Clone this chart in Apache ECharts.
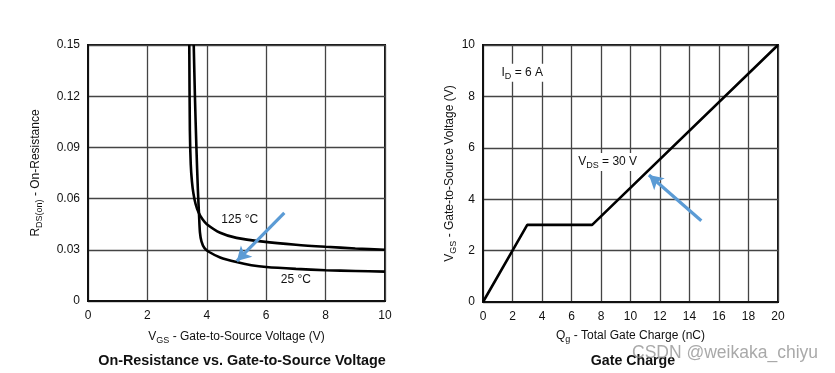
<!DOCTYPE html>
<html><head><meta charset="utf-8">
<script src="https://cdn.jsdelivr.net/npm/echarts@6/dist/echarts.min.js"></script>
<style>html,body{margin:0;padding:0;background:#fff}#c{width:835px;height:373px}</style>
</head><body><div id="c"></div>
<script>
// Left chart: On-Resistance vs. Gate-to-Source Voltage
const vgs125 = [3.41, 3.43, 3.46, 3.50, 3.55, 3.62, 3.72, 3.85, 4.0, 4.45, 5.0, 5.9, 7.0, 8.0, 9.0, 10];
const r125   = [0.15, 0.10, 0.080, 0.070, 0.063, 0.057, 0.052, 0.048, 0.045, 0.040, 0.037, 0.0348, 0.033, 0.0318, 0.0308, 0.030];
const vgs25  = [3.56, 3.60, 3.65, 3.70, 3.74, 3.77, 3.82, 3.92, 4.05, 4.45, 5.0, 5.5, 6.0, 7.0, 8.0, 9.0, 10];
const r25    = [0.15, 0.12, 0.09, 0.065, 0.050, 0.040, 0.035, 0.031, 0.029, 0.0255, 0.0228, 0.021, 0.0199, 0.0188, 0.018, 0.0176, 0.0172];
const leftXTicks = [0, 2, 4, 6, 8, 10];
const leftYTicks = [0, 0.03, 0.06, 0.09, 0.12, 0.15];
const arrowLeft = [[6.61, 0.0517], [5.01, 0.0234]];
const labelsLeft = [{text: '125 °C', x: 5.11, y: 0.0475}, {text: '25 °C', x: 7.0, y: 0.0123}];

// Right chart: Gate Charge
const qg  = [0, 3, 7.4, 20];
const vgs = [0, 3, 3, 10];
const rightXTicks = [0, 2, 4, 6, 8, 10, 12, 14, 16, 18, 20];
const rightYTicks = [0, 2, 4, 6, 8, 10];
const arrowRight = [[14.8, 3.16], [11.25, 4.94]];
const labelsRight = [{text: '{n|I}{s|D}{n| = 6 A}', x: 2.66, y: 8.92}, {text: '{n|V}{s|DS}{n| = 30 V}', x: 8.45, y: 5.45}];

const FONT = 'Liberation Sans';
const pair = (xs, ys) => xs.map((x, i) => [x, ys[i]]);
const rich = {
  n: {fontFamily: FONT, fontSize: 12, color: '#111'},
  s: {fontFamily: FONT, fontSize: 9, color: '#111', padding: [7, 0, 0, 0]}
};
const chart = echarts.init(document.getElementById('c'), null, {renderer: 'canvas'});
const axisCommon = {
  axisLine: {show: true, lineStyle: {color: '#111', width: 2}},
  axisTick: {show: false},
  splitLine: {show: true, lineStyle: {color: '#444', width: 1.3}},
  axisLabel: {fontFamily: FONT, fontSize: 12, color: '#111'},
  nameLocation: 'middle'
};
const annot = (labels, xi, yi) => ({
  type: 'scatter', xAxisIndex: xi, yAxisIndex: yi, symbolSize: 0, silent: true, z: 5,
  itemStyle: {opacity: 1},
  data: labels.map(l => ({value: [l.x, l.y], label: {formatter: l.text}})),
  label: {show: true, position: 'inside', fontFamily: FONT, fontSize: 12, color: '#111',
          backgroundColor: '#fff', padding: [1, 2], rich: rich}
});
const arrow = (pts, xi, yi) => ({
  type: 'line', xAxisIndex: xi, yAxisIndex: yi, data: [], silent: true, z: 6,
  markLine: {
    silent: true, animation: false, symbol: ['none', 'arrow'], symbolSize: [12, 14],
    label: {show: false},
    lineStyle: {color: '#5b9bd5', width: 3.2, type: 'solid', opacity: 1},
    data: [[{coord: pts[0]}, {coord: pts[1]}]]
  }
});
chart.setOption({
  animation: false,
  backgroundColor: '#fff',
  grid: [
    {left: 88, right: 450, top: 45, bottom: 72, show: true, borderColor: '#111', borderWidth: 2},
    {left: 483, right: 57, top: 45, bottom: 71, show: true, borderColor: '#111', borderWidth: 2}
  ],
  xAxis: [
    Object.assign({}, axisCommon, {gridIndex: 0, type: 'value', min: 0, max: 10, interval: 2,
      axisLabel: Object.assign({}, axisCommon.axisLabel, {margin: 9}),
      name: '{n|V}{s|GS}{n| - Gate-to-Source Voltage (V)}', nameGap: 28,
      nameTextStyle: {rich: rich}}),
    Object.assign({}, axisCommon, {gridIndex: 1, type: 'value', min: 0, max: 20, interval: 2,
      axisLabel: Object.assign({}, axisCommon.axisLabel, {margin: 9}),
      name: '{n|Q}{s|g}{n| - Total Gate Charge (nC)}', nameGap: 26,
      nameTextStyle: {rich: rich}})
  ],
  yAxis: [
    Object.assign({}, axisCommon, {gridIndex: 0, type: 'value', min: 0, max: 0.15, interval: 0.03,
      axisLabel: Object.assign({}, axisCommon.axisLabel, {margin: 8, formatter: v => v === 0 ? '0' : v.toFixed(2)}),
      name: '{n|R}{s|DS(on)}{n| - On-Resistance}', nameGap: 44, nameRotate: 90,
      nameTextStyle: {rich: rich}}),
    Object.assign({}, axisCommon, {gridIndex: 1, type: 'value', min: 0, max: 10, interval: 2,
      axisLabel: Object.assign({}, axisCommon.axisLabel, {margin: 8}),
      name: '{n|V}{s|GS}{n| - Gate-to-Source Voltage (V)}', nameGap: 24, nameRotate: 90,
      nameTextStyle: {rich: rich}})
  ],
  series: [
    {type: 'line', xAxisIndex: 0, yAxisIndex: 0, data: pair(vgs125, r125), smooth: 0.25, showSymbol: false,
     lineStyle: {color: '#000', width: 2.6}, clip: true},
    {type: 'line', xAxisIndex: 0, yAxisIndex: 0, data: pair(vgs25, r25), smooth: 0.25, showSymbol: false,
     lineStyle: {color: '#000', width: 2.6}, clip: true},
    {type: 'line', xAxisIndex: 1, yAxisIndex: 1, data: pair(qg, vgs), showSymbol: false,
     lineStyle: {color: '#000', width: 2.6}},
    annot(labelsLeft, 0, 0),
    annot(labelsRight, 1, 1),
    arrow(arrowLeft, 0, 0),
    arrow(arrowRight, 1, 1)
  ],
  graphic: [
    {type: 'text', style: {text: 'On-Resistance vs. Gate-to-Source Voltage', x: 242, y: 361,
      align: 'center', verticalAlign: 'middle', font: 'bold 14.4px "Liberation Sans"', fill: '#111'}},
    {type: 'text', style: {text: 'Gate Charge', x: 633, y: 361,
      align: 'center', verticalAlign: 'middle', font: 'bold 14.2px "Liberation Sans"', fill: '#111'}},
    {type: 'text', z: 100, style: {text: 'CSDN @weikaka_chiyu', x: 632, y: 353,
      align: 'left', verticalAlign: 'middle', font: '17.5px "Liberation Sans"', fill: 'rgba(140,140,140,0.75)'}}
  ]
});
</script></body></html>
